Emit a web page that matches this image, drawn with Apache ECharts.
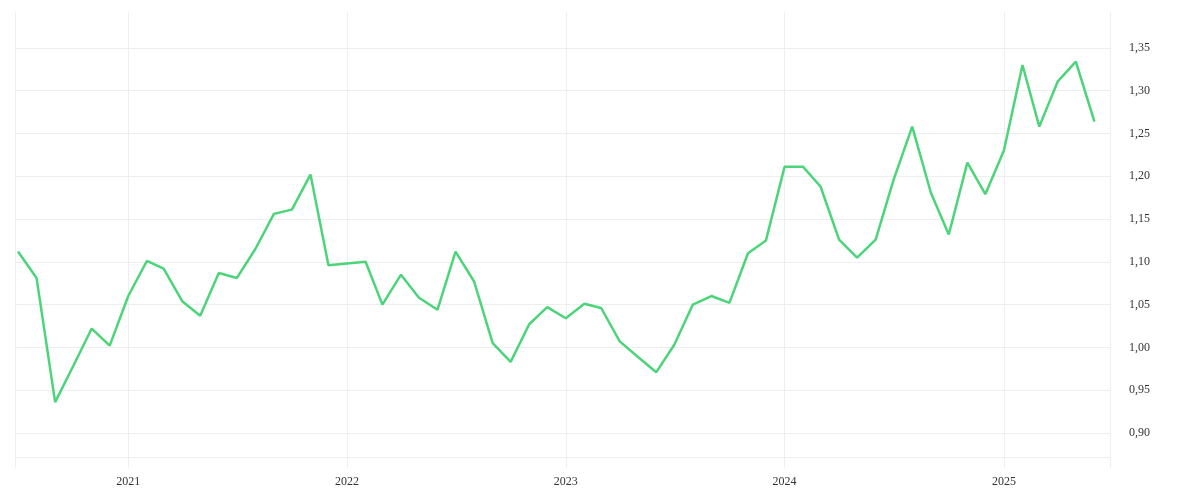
<html>
<head>
    <meta charset="utf-8">
    <script src="https://cdn.jsdelivr.net/npm/echarts@6/dist/echarts.min.js"></script>
    <style>body{margin:0;background:#fff}#main{width:1200px;height:500px}</style>
</head>
<body>
    <div id="main"></div>
    <script>
        // monthly values, Jul 2020 .. Jun 2025
        var startYear = 2020, startMonth = 6;
        var values = [
            1.112, 1.081, 0.936, 0.978, 1.022, 1.002,
            1.060, 1.101, 1.092, 1.054, 1.037, 1.087, 1.081, 1.115, 1.156, 1.161, 1.202, 1.096,
            1.098, 1.100, 1.050, 1.085, 1.058, 1.044, 1.112, 1.077, 1.005, 0.983, 1.027, 1.047,
            1.034, 1.051, 1.046, 1.007, 0.989, 0.971, 1.003, 1.050, 1.060, 1.052, 1.110, 1.125,
            1.211, 1.211, 1.188, 1.126, 1.105, 1.126, 1.196, 1.258, 1.181, 1.132, 1.216, 1.179,
            1.230, 1.330, 1.258, 1.311, 1.334, 1.264
        ];
        var yTicks = [0.90, 0.95, 1.00, 1.05, 1.10, 1.15, 1.20, 1.25, 1.30, 1.35];
        var yLines = [0.871].concat(yTicks);

        var data = values.map(function (v, i) {
            return [new Date(startYear, startMonth + i, 1).getTime(), v];
        });

        var chart = echarts.init(document.getElementById('main'));
        var font = 'Liberation Serif';
        chart.setOption({
            animation: false,
            grid: { left: 15, right: 90, top: 12, bottom: 32 },
            xAxis: {
                type: 'time',
                min: new Date(2020, 5, 26).getTime(),
                max: new Date(2025, 5, 27).getTime(),
                minInterval: 365 * 24 * 3600 * 1000,
                axisLine: { show: false },
                axisTick: { show: false },
                axisLabel: {
                    color: '#333', fontFamily: font, fontSize: 12,
                    formatter: '{yyyy}', showMinLabel: false, showMaxLabel: false
                },
                splitLine: { show: true, lineStyle: { color: '#eeeeee' } }
            },
            yAxis: {
                type: 'value',
                position: 'right',
                min: 0.859,
                max: 1.392,
                axisLine: { show: false },
                axisTick: { show: false, customValues: yLines },
                axisLabel: {
                    customValues: yTicks,
                    color: '#333', fontFamily: font, fontSize: 12, margin: 19,
                    formatter: function (v) { return v.toFixed(2).replace('.', ','); }
                },
                splitLine: { show: true, lineStyle: { color: '#eeeeee' } }
            },
            series: [{
                type: 'line',
                data: data,
                showSymbol: false,
                lineStyle: { color: '#4cd47a', width: 2.5 }
            }]
        });
    </script>
</body>
</html>
